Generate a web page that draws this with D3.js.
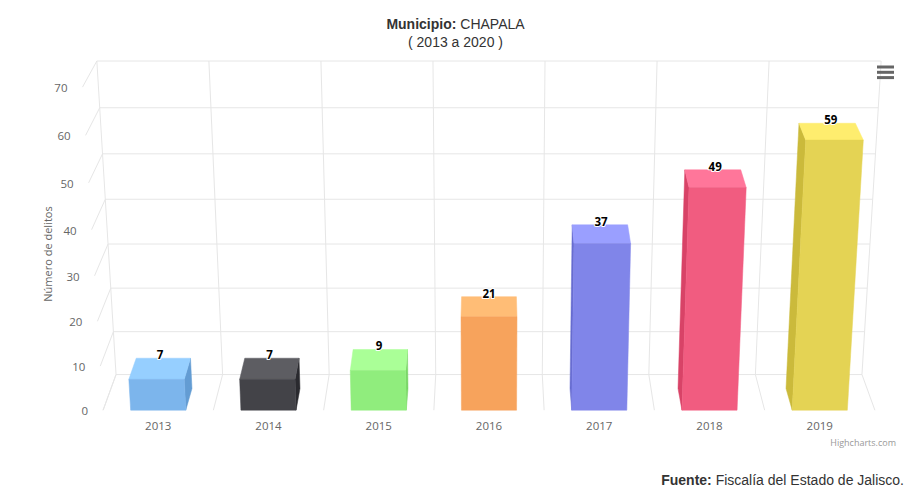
<!DOCTYPE html>
<html>
<head>
<meta charset="utf-8">
<script src="https://cdn.jsdelivr.net/npm/d3@7"></script>
<style>
  body { margin: 0; background: #fff; }
  svg text { font-family: 'Open Sans', 'DejaVu Sans', sans-serif; }
</style>
</head>
<body>
<div id="chart"></div>
<script>
// Chart values
var years   = ['2013', '2014', '2015', '2016', '2017', '2018', '2019'];
var delitos = [7, 7, 9, 21, 37, 49, 59];
var colors  = ['#7cb5ec', '#434348', '#90ed7d', '#f7a35c', '#8085e9', '#f15c80', '#e4d354'];
var yTicks  = [0, 10, 20, 30, 40, 50, 60, 70];

var W = 911, H = 496;

// 3D view: tilt round the horizontal axis, then perspective
var ALPHA = 20.7 * Math.PI / 180;
var VIEW = 2355;           // eye distance from the box centre
var CX = 489, CY = 237;    // screen position of the box centre
var sinA = Math.sin(ALPHA), cosA = Math.cos(ALPHA);

function project(x, u, w) {
    var zr = sinA * u + cosA * w;
    var yr = cosA * u - sinA * w;
    var k = VIEW / (VIEW + zr);
    return [CX + x * k, CY + yr * k];
}

// world scales: x across, y (u) down, z (w) into the page
var x = d3.scaleBand().domain(years).range([-389, 389])
    .paddingInner(0.5).paddingOuter(0.25);
var y = d3.scaleLinear().domain([0, 70]).range([170, -170]);
var z = d3.scaleLinear().domain([0, 1]).range([-44, 44]);

var xMin = x.range()[0], xMax = x.range()[1];
var gap = (x.step() - x.bandwidth()) / 2;
var bounds = years.map(function (d) { return x(d) - gap; }).concat([xMax]);

var svg = d3.select('#chart').append('svg')
    .attr('width', W).attr('height', H)
    .attr('viewBox', '0 0 ' + W + ' ' + H);

var line = d3.line();
function seg(g, a, b) {
    g.append('path').attr('d', line([a, b]))
        .attr('fill', 'none').attr('stroke', '#e6e6e6').attr('stroke-width', 1);
}

// Frame gridlines
var grid = svg.append('g').attr('class', 'grid');
yTicks.forEach(function (t) {
    seg(grid, project(xMin, y(t), z(1)), project(xMax, y(t), z(1)));   // back wall
    seg(grid, project(xMin, y(t), z(0)), project(xMin, y(t), z(1)));   // left wall
});
bounds.forEach(function (b) {
    seg(grid, project(b, y(70), z(1)), project(b, y(0), z(1)));        // back wall
    seg(grid, project(b, y(0), z(0)), project(b, y(0), z(1)));         // floor
});

// Columns
function shade(c, amt) {
    var r = d3.rgb(c);
    var s = 255 * amt;
    return d3.rgb(r.r + s, r.g + s, r.b + s).formatHex();
}

var barDepth = 0.6;
var bars = svg.append('g').attr('class', 'bars');
years.forEach(function (yr, i) {
    var x1 = x(yr), x2 = x(yr) + x.bandwidth();
    var u0 = y(0), u1 = y(delitos[i]);
    var wf = z(0), wb = z(barDepth);
    var g = bars.append('g');
    var poly = function (pts, fill) {
        g.append('path').attr('d', line(pts) + 'Z')
            .attr('fill', fill).attr('stroke', fill).attr('stroke-width', 0.5)
            .attr('stroke-linejoin', 'round');
    };
    var midU = (u0 + u1) / 2;
    // side faces
    if (project(x2, midU, wb)[0] > project(x2, midU, wf)[0]) {
        poly([project(x2, u0, wf), project(x2, u0, wb), project(x2, u1, wb), project(x2, u1, wf)],
            shade(colors[i], -0.1));
    }
    if (project(x1, midU, wb)[0] < project(x1, midU, wf)[0]) {
        poly([project(x1, u0, wf), project(x1, u0, wb), project(x1, u1, wb), project(x1, u1, wf)],
            shade(colors[i], -0.1));
    }
    // top
    poly([project(x1, u1, wf), project(x1, u1, wb), project(x2, u1, wb), project(x2, u1, wf)],
        shade(colors[i], 0.1));
    // front
    poly([project(x1, u0, wf), project(x1, u1, wf), project(x2, u1, wf), project(x2, u0, wf)],
        colors[i]);

    // data label
    var xc = x1 + x.bandwidth() / 2;
    var pf = project(xc, u1, wf), pb = project(xc, u1, wb);
    g.append('text')
        .attr('x', (pf[0] + pb[0]) / 2).attr('y', pb[1] + 1)
        .attr('text-anchor', 'middle')
        .attr('font-size', 11.5).attr('font-weight', 'bold')
        .attr('fill', '#000')
        .attr('stroke', '#fff').attr('stroke-width', 2)
        .attr('stroke-linejoin', 'round').attr('paint-order', 'stroke')
        .text(delitos[i]);
});

// Axis labels
var axis = svg.append('g').attr('class', 'axis').attr('fill', '#666').attr('font-size', 11.5);
yTicks.forEach(function (t) {
    var p = project(xMin, y(t), z(0));
    axis.append('text')
        .attr('x', p[0] - 15).attr('y', p[1] + 1)
        .attr('dy', '0.35em').attr('text-anchor', 'end')
        .text(t);
});
years.forEach(function (yr) {
    var p = project(x(yr) + x.bandwidth() / 2, y(0), z(0));
    axis.append('text')
        .attr('x', p[0]).attr('y', p[1] + 20)
        .attr('text-anchor', 'middle')
        .text(yr);
});

svg.append('text')
    .attr('transform', 'translate(52,254) rotate(-90)')
    .attr('text-anchor', 'middle')
    .attr('fill', '#666').attr('font-size', 11)
    .text('Número de delitos');

// Title and subtitle
var title = svg.append('text')
    .attr('x', W / 2).attr('y', 29)
    .attr('text-anchor', 'middle')
    .attr('fill', '#333').attr('font-size', 14)
    .style('font-family', "'Liberation Sans', Arial, sans-serif");
title.append('tspan').attr('font-weight', 'bold').text('Municipio:');
title.append('tspan').text(' CHAPALA');

svg.append('text')
    .attr('x', W / 2).attr('y', 47)
    .attr('text-anchor', 'middle')
    .attr('fill', '#333').attr('font-size', 14)
    .style('font-family', "'Liberation Sans', Arial, sans-serif")
    .text('( 2013 a 2020 )');

// Export menu icon
var menu = svg.append('g').attr('stroke', '#666').attr('stroke-width', 3);
[67, 72.3, 77.6].forEach(function (yy) {
    menu.append('line').attr('x1', 877).attr('x2', 894).attr('y1', yy).attr('y2', yy);
});

// Credits and source
svg.append('text')
    .attr('x', 896).attr('y', 446)
    .attr('text-anchor', 'end')
    .attr('fill', '#999').attr('font-size', 9)
    .text('Highcharts.com');

var src = svg.append('text')
    .attr('x', 904).attr('y', 485)
    .attr('text-anchor', 'end')
    .attr('fill', '#333').attr('font-size', 14)
    .style('font-family', "'Liberation Sans', Arial, sans-serif");
src.append('tspan').attr('font-weight', 'bold').text('Fuente:');
src.append('tspan').text(' Fiscalía del Estado de Jalisco.');
</script>
</body>
</html>
